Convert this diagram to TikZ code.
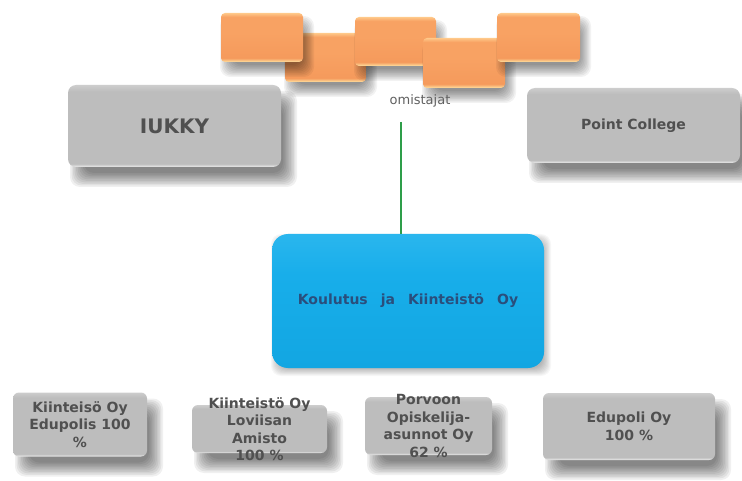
\documentclass[tikz,border=0pt]{standalone}
\usepackage{fontspec}
\setmainfont{DejaVu Sans}
\definecolor{gtopc}{HTML}{CDCDCD}
\definecolor{gbody}{HTML}{BDBDBD}
\definecolor{grim}{HTML}{EDEDED}
\definecolor{gtext}{HTML}{505050}
\definecolor{otopc}{HTML}{FFC98A}
\definecolor{obody}{HTML}{F8A263}
\definecolor{obody2}{HTML}{F59A5C}
\definecolor{orim}{HTML}{FFE2A2}
\definecolor{btopc}{HTML}{2AB6EE}
\definecolor{bbody}{HTML}{18AEEA}
\definecolor{bbot}{HTML}{12A6E2}
\definecolor{btext}{HTML}{2A4E7C}
\definecolor{lgreen}{HTML}{2E9E4A}
\pgfdeclareverticalshading{graysh}{100bp}{color(0bp)=(grim); color(25bp)=(grim); color(27bp)=(gbody); color(71bp)=(gbody); color(75bp)=(gtopc); color(100bp)=(gtopc)}
\pgfdeclareverticalshading{orangesh}{100bp}{color(0bp)=(orim); color(25bp)=(orim); color(29bp)=(obody2); color(55bp)=(obody); color(71bp)=(obody); color(75bp)=(otopc); color(100bp)=(otopc)}
\pgfdeclareverticalshading{bluesh}{100bp}{color(0bp)=(bbot); color(25bp)=(bbot); color(60bp)=(bbody); color(75bp)=(btopc); color(100bp)=(btopc)}
% #1 name, #2 cx, #3 cy, #4 w, #5 h, #6 style, #7 text
\newcommand{\dropbox}[7]{%
  \foreach \k in {0,...,9}{%
    \pgfmathsetmacro{\shE}{\shb/2-\shb*\k/9}%
    \fill[black, opacity=\shop, rounded corners=10pt]
      ({#2-#4/2+\shdx-\shE}, {#3-#5/2+\shdy-\shE}) rectangle ({#2+#4/2+\shdx+\shE}, {#3+#5/2+\shdy+\shE});
  }%
  \node[#6, minimum width=#4pt, minimum height=#5pt] (#1) at (#2,#3) {#7};%
}
\newcommand{\shadowset}[4]{\def\shdx{#1}\def\shdy{#2}\def\shb{#3}\def\shop{#4}}
\begin{document}
\begin{tikzpicture}[x=1pt,y=-1pt,
  graybox/.style={rounded corners=8pt, shading=graysh, inner sep=0pt},
  orangebox/.style={rounded corners=4pt, shading=orangesh, inner sep=0pt},
  bluebox/.style={rounded corners=16pt, shading=bluesh, inner sep=0pt},
  smalltext/.style={font=\bfseries\fontsize{14}{17.5}\selectfont, text=gtext, align=center, inner sep=0pt}
]
\useasboundingbox[fill=white] (0,0) rectangle (742,481);

% owners
\shadowset{5}{9}{12}{0.05}
\dropbox{o2}{325.5}{57.5}{81}{49}{orangebox}{}
\dropbox{o1}{262}{37.5}{82}{49}{orangebox}{}
\dropbox{o3}{395.5}{41.5}{81}{49}{orangebox}{}
\dropbox{o4}{464}{63}{82}{50}{orangebox}{}
\dropbox{o5}{538.5}{37.5}{83}{49}{orangebox}{}

\node[font=\fontsize{13}{15}\selectfont, text=gtext!90!white, inner sep=1pt] (own) at (420,101) {omistajat};

\shadowset{9}{13}{14}{0.06}
\dropbox{iukky}{174.5}{126}{213}{82}{graybox, font=\bfseries\fontsize{20}{24}\selectfont, text=gtext}{IUKKY}
\dropbox{point}{633.5}{125.5}{213}{75}{graybox, font=\bfseries\fontsize{14}{17}\selectfont, text=gtext}{Point College}

\shadowset{3}{4}{8}{0.03}
\dropbox{kj}{408}{301}{272}{134}{bluebox, font=\bfseries\fontsize{14}{17}\selectfont, text=btext}{Koulutus\hspace{13pt}ja\hspace{13pt}Kiinteistö\hspace{13pt}Oy}

\coordinate (ltop) at (401,122);
\draw[lgreen, line width=1.6pt] (ltop) -- (ltop |- kj.north);

% subsidiaries
\shadowset{9}{13}{14}{0.06}
\dropbox{b1}{80}{424.5}{134}{64}{graybox, rounded corners=6pt, label={[smalltext]center:Kiinteisö Oy\\Edupolis 100\\\%}}{}
\dropbox{b2}{259.5}{429}{135}{48}{graybox, rounded corners=6pt, label={[smalltext]center:Kiinteistö Oy\\Loviisan\\Amisto\\100 \%}}{}
\dropbox{b3}{428.5}{426}{127}{58}{graybox, rounded corners=6pt, label={[smalltext]center:Porvoon\\Opiskelija-\\asunnot Oy\\62 \%}}{}
\dropbox{b4}{629}{426.5}{172}{67}{graybox, rounded corners=6pt, label={[smalltext]center:Edupoli Oy\\100 \%}}{}
\end{tikzpicture}
\end{document}
